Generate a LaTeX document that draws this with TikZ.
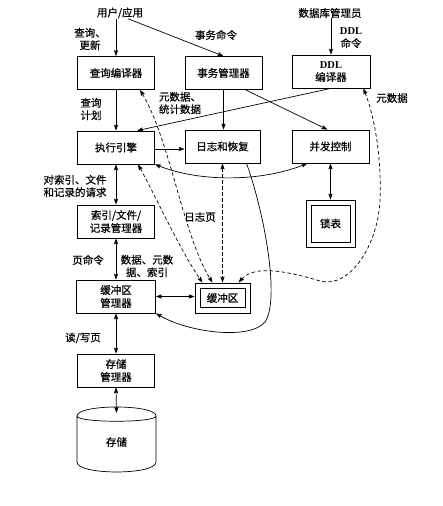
\documentclass[tikz,border=0pt]{standalone}
\usepackage{fontspec}
\setmainfont{Liberation Serif}
\newfontfamily\cjk[FakeBold=0.5]{Noto Sans CJK SC}
\usetikzlibrary{arrows.meta}
\begin{document}
\begin{tikzpicture}[x=1pt,y=-1pt,
  line width=0.7pt,
  tip/.tip={Stealth[length=6pt,width=4.2pt,inset=1pt]},
  box/.style={draw, line width=0.7pt, minimum width=77pt, minimum height=33pt, inner sep=1pt, align=center, font=\cjk\fontsize{10.5}{13}\selectfont},
  frame/.style={draw, line width=0.7pt, inner sep=0pt},
  lbl/.style={font=\cjk\fontsize{10.5}{12.5}\selectfont, align=center, inner sep=0pt},
  arr/.style={-tip},
  darr/.style={tip-tip},
  dsh/.style={dash pattern=on 3.5pt off 2.5pt}]
\useasboundingbox (0,0) rectangle (443,506);

% boxes
\node[box] (qc) at (116,73) {查询编译器};
\node[box] (tm) at (223.5,73) {事务管理器};
\node[box, minimum width=78pt] (ddl) at (331,71.5) {{\rmfamily\bfseries DDL}\\编译器};
\node[box] (ee) at (116,147.5) {执行引擎};
\node[box, minimum width=75pt] (lr) at (222.5,146.5) {日志和恢复};
\node[box] (cc) at (330.5,146.5) {并发控制};
\node[box, minimum width=39pt, minimum height=37pt] (lockin) at (330.5,223.5) {锁表};
\node[frame, minimum width=49pt, minimum height=47pt] (lock) at (330.5,223.5) {};
\node[box] (ifr) at (116,221.5) {索引/文件/\\记录管理器};
\node[box, minimum width=79pt] (bm) at (116,296.5) {缓冲区\\管理器};
\node[box, minimum width=45pt, minimum height=19pt] (bufin) at (222.5,298) {缓冲区};
\node[frame, minimum width=55pt, minimum height=30pt] (buf) at (222.5,298) {};
\node[box] (sm) at (116,370.5) {存储\\管理器};

% storage cylinder
\draw (77,416) .. controls (77,404) and (156,404) .. (156,416)
      .. controls (156,423) and (77,423) .. (77,416) -- (77,462)
      .. controls (77,475.3) and (156,475.3) .. (156,462) -- (156,416);
\node[lbl] (stor) at (116.5,442) {存储};
\coordinate (stortop) at (116.5,413);

% labels
\node[lbl] (user) at (120,13) {用户/应用};
\node[lbl] (dba) at (330,13) {数据库管理员};
\node[lbl] (l1) at (90,39) {查询、\\更新};
\node[lbl] (l2) at (216,35) {事务命令};
\node[lbl] (l3) at (351,38) {{\rmfamily\bfseries DDL}\\命令};
\node[lbl] (l4) at (91,109) {查询\\计划};
\node[lbl] (l5) at (180,103) {元数据、\\统计数据};
\node[lbl] (l6) at (392,98) {元数据};
\node[lbl] (l7) at (75,186) {对索引、文件\\和记录的请求};
\node[lbl] (l8) at (200,217) {日志页};
\node[lbl] (l9) at (88,260) {页命令};
\node[lbl] (l10) at (147,266) {数据、元数\\据、索引};
\node[lbl] (l11) at (83,338) {读/写页};

% solid connectors
\draw[arr] (user.south -| qc.north) -- (qc.north);
\draw[arr] ([xshift=8pt]user.south) -- (tm.north);
\draw[arr] (dba.south -| ddl.north) -- (ddl.north);
\draw[arr] (qc) -- (ee);
\draw[arr] (tm.south) -- (tm.south |- lr.north);
\draw[arr] (ddl.south) -- ([xshift=21pt]ee.north);
\draw[arr] ([xshift=22pt]tm.south) -- ([xshift=-3pt]cc.north);
\draw[arr] ([yshift=-1.5pt]ee.east) -- ([yshift=-1.5pt]ee.east -| lr.west);
\draw[darr] (ee.south east) .. controls (200,182) and (260,182) .. ([xshift=-23pt]cc.south);
\draw[darr] (cc.south) -- (lock.north);
\draw[darr] (ee) -- (ifr);
\draw[darr] (ifr) -- (bm);
\draw[darr] (bm.east) -- (bm.east -| buf.west);
\draw[darr] (bm) -- (sm);
\draw[darr] (sm.south) -- (stortop);
\draw[arr] ([xshift=24pt]lr.south) .. controls (265,215) and (280,300) .. (265,322)
      .. controls (250,340) and (190,333) .. (bm.south east);

% dashed connectors
\draw[darr,dsh] ([xshift=24pt]qc.south) .. controls (170,140) and (183,235) .. ([xshift=-10pt]buf.north);
\draw[darr,dsh] ([xshift=22pt]ee.south) .. controls (155,195) and (180,250) .. ([xshift=-20pt]buf.north);
\draw[darr,dsh] (lr.south) -- (lr.south |- buf.north);
\draw[darr,dsh] ([xshift=16pt]buf.north) .. controls (255,264) and (290,272) .. (320,281)
      .. controls (350,289) and (378,245) .. (380,200)
      .. controls (382,150) and (372,110) .. ([xshift=-7pt]ddl.south east);
\end{tikzpicture}
\end{document}
